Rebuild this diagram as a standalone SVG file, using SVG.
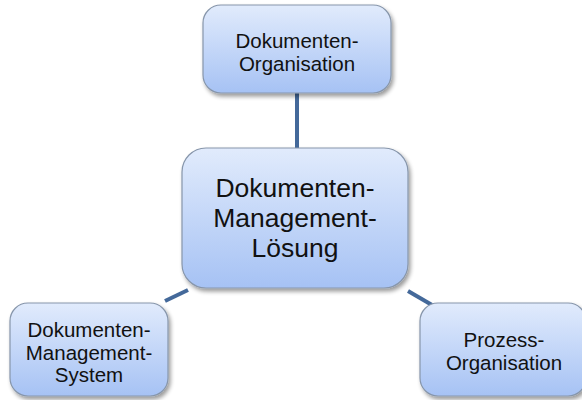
<svg xmlns="http://www.w3.org/2000/svg" width="582" height="400" viewBox="0 0 582 400">
<defs>
<linearGradient id="g" x1="0" y1="0" x2="0" y2="1">
<stop offset="0" stop-color="#e1ebfc"/>
<stop offset="1" stop-color="#a6c2f4"/>
</linearGradient>
<filter id="sh" x="-10%" y="-10%" width="130%" height="130%">
<feGaussianBlur in="SourceAlpha" stdDeviation="2"/>
<feOffset dx="2" dy="3"/>
<feComponentTransfer><feFuncA type="linear" slope="0.4"/></feComponentTransfer>
<feMerge><feMergeNode/><feMergeNode in="SourceGraphic"/></feMerge>
</filter>
</defs>
<style>
.box{fill:url(#g);stroke:#8796ab;stroke-width:1.2;filter:url(#sh)}
.t{font-family:"Liberation Sans",Arial,sans-serif;fill:#111;text-anchor:middle}
.s{font-size:20.5px}
.l{font-size:26.5px}
.c{stroke:#44699a;stroke-width:4;fill:none}
</style>
<rect width="582" height="400" fill="#fff"/>
<g id="connectors">
<line class="c" x1="297" y1="93" x2="297" y2="148"/>
<line class="c" x1="165" y1="301" x2="188" y2="290"/>
<line class="c" x1="408" y1="291" x2="432" y2="305"/>
</g>
<g id="node-top">
<rect class="box" x="203" y="5" width="188" height="88" rx="18"/>
<text class="t s" x="297" y="48">Dokumenten-</text>
<text class="t s" x="297" y="71">Organisation</text>
</g>
<g id="node-center">
<rect class="box" x="182" y="148" width="226" height="140" rx="24"/>
<text class="t l" x="295" y="197">Dokumenten-</text>
<text class="t l" x="295" y="227">Management-</text>
<text class="t l" x="295" y="257">Lösung</text>
</g>
<g id="node-left">
<rect class="box" x="10" y="303" width="158" height="93" rx="18"/>
<text class="t s" x="89" y="337">Dokumenten-</text>
<text class="t s" x="89" y="360">Management-</text>
<text class="t s" x="89" y="382">System</text>
</g>
<g id="node-right">
<rect class="box" x="420" y="303" width="166" height="93" rx="18"/>
<text class="t s" x="504" y="347">Prozess-</text>
<text class="t s" x="504" y="370">Organisation</text>
</g>
</svg>
